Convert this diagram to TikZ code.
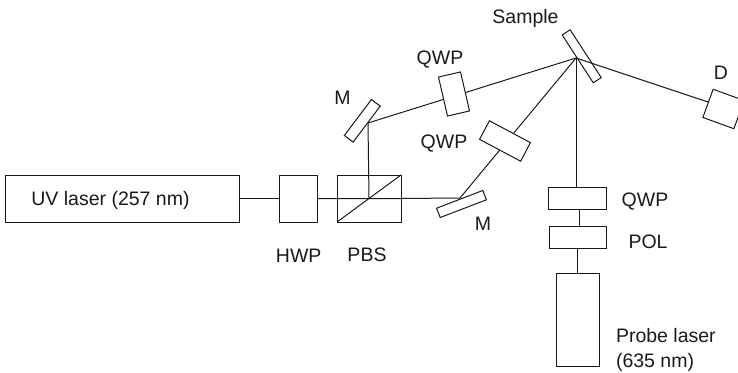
\documentclass[tikz,border=0pt]{standalone}
\usepackage{fontspec}
\setmainfont{Liberation Sans}
\definecolor{ink}{HTML}{1A1A1A}
\tikzset{
  x=1pt,y=-1pt,
  optic/.style={draw=ink,line width=1pt,fill=white,inner sep=0pt,outer sep=0pt,anchor=center},
  beam/.style={draw=ink,line width=1pt},
  lab/.style={text=ink,font=\fontsize{19.5}{25}\selectfont,inner sep=0pt,outer sep=0pt,anchor=base},
  lab2/.style={lab,align=left,anchor=base west}
}
\begin{document}
\begin{tikzpicture}
\path[use as bounding box] (0,0) rectangle (738,372);
\clip (0,0) rectangle (738,372);
% beam points
\coordinate (pbsc) at (369,198);
\coordinate (ma) at (368,123);
\coordinate (mb) at (460,198);
\coordinate (s) at (576,58);
\coordinate (dd) at (708,102);
% beams under the optics
\draw[beam] (ma) -- (s);
\draw[beam] (mb) -- (s);
\draw[beam] (s) -- (dd);
\draw[beam] (s) -- (576,187);
% optics
\node[optic,minimum width=234pt,minimum height=47pt] (uv) at (122,198.5) {};
\node[optic,minimum width=38pt,minimum height=47pt] (hwp) at (298,198.5) {};
\node[optic,minimum width=64pt,minimum height=47pt,fill=none] (pbs) at (369,198.5) {};
\node[optic,minimum width=22.6pt,minimum height=40pt,rotate=13] (qwpa) at (454,94) {};
\node[optic,minimum width=46.5pt,minimum height=21pt,rotate=-28] (qwpb) at (505,141) {};
\node[optic,minimum width=45pt,minimum height=11pt,rotate=53] (ma box) at (362.3,120.8) {};
\node[optic,minimum width=49.5pt,minimum height=10pt,rotate=21] (mb box) at (461.5,204) {};
\node[optic,minimum width=57pt,minimum height=9.5pt,rotate=-57,fill=none] (samp) at (581.7,56.3) {};
\node[optic,minimum width=33pt,minimum height=30pt,rotate=-20] (det) at (723.5,109) {};
\node[optic,minimum width=58pt,minimum height=22pt] (qwpc) at (577,198) {};
\node[optic,minimum width=57pt,minimum height=22pt] (pol) at (577.5,237) {};
\node[optic,minimum width=43pt,minimum height=93pt] (probe) at (577.5,319.5) {};
% connectors
\draw[beam] (uv.east) -- (hwp.west);
\draw[beam] (hwp.east) -- (pbs.east) -- (mb);
\draw[beam] (pbsc) -- (ma);
\draw[beam] (pbs.south west) -- (pbs.north east);
\draw[beam] (579,209) -- (579,226);
\draw[beam] (577,248) -- (577,273);
% labels
\node[lab] (l1) at (110.5,205) {UV laser (257 nm)};
\node[lab] (l2) at (298.7,262) {HWP};
\node[lab] (l3) at (367,261) {PBS};
\node[lab] (l4) at (483,230) {M};
\node[lab] (l5) at (342.5,104) {M};
\node[lab] (l6) at (440,64) {QWP};
\node[lab] (l7) at (444,148) {QWP};
\node[lab] (l8) at (525.5,23) {Sample};
\node[lab] (l9) at (721,79) {D};
\node[lab] (l10) at (645,206) {QWP};
\node[lab] (l11) at (648,248) {POL};
\node[lab2] (l12) at (616,367) {Probe laser\\(635 nm)};
\end{tikzpicture}
\end{document}
